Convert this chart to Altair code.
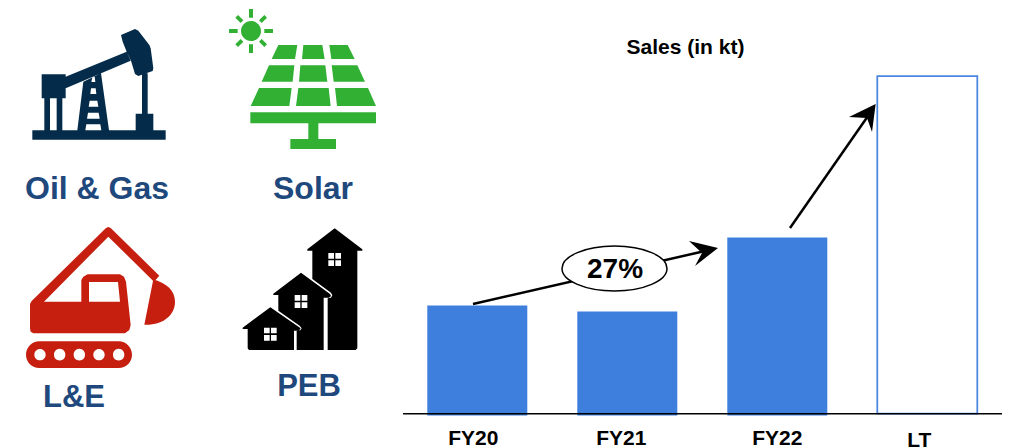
import re
import altair as alt
import pandas as pd

categories = ["FY20", "FY21", "FY22", "LT"]
filled_sales = [110, 104, 178]
open_sales = [339.5]

TEXT_BLUE = "#1F497D"
BAR_BLUE = "#3E7EDC"
FONT = "Liberation Sans"
OX = OY = -8


def z(ox, oy, s):
    """Path written in zoomed (3x) crop coordinates -> page coordinates."""
    out, i = [], 0
    for tok in re.findall(r"[MLCZ]|-?\d+\.?\d*", s):
        if tok.isalpha():
            out.append(tok)
        else:
            v = float(tok)
            out.append(f"{(ox if i % 2 == 0 else oy) + v / 3:.2f}")
            i += 1
    return " ".join(out)


def poly(ox, oy, *pts):
    return z(ox, oy, "M" + " L".join(f"{x} {y}" for x, y in pts) + " Z")


def rect(ox, oy, x0, y0, x1, y1):
    return poly(ox, oy, (x0, y0), (x1, y0), (x1, y1), (x0, y1))


def circle(ox, oy, cx, cy, r):
    x, y, r = ox + cx / 3, oy + cy / 3, r / 3
    return f"M {x - r:.2f} {y:.2f} A {r:.2f} {r:.2f} 0 1 1 {x + r:.2f} {y:.2f} A {r:.2f} {r:.2f} 0 1 1 {x - r:.2f} {y:.2f} Z"


def stadium(ox, oy, x0, x1, y0, y1):
    r = (y1 - y0) / 6
    a, b, t, u = ox + x0 / 3, ox + x1 / 3, oy + y0 / 3, oy + y1 / 3
    return f"M {a:.2f} {t:.2f} L {b:.2f} {t:.2f} A {r:.2f} {r:.2f} 0 0 1 {b:.2f} {u:.2f} L {a:.2f} {u:.2f} A {r:.2f} {r:.2f} 0 0 1 {a:.2f} {t:.2f} Z"


def icon(paths, color):
    return (
        alt.Chart(pd.DataFrame({"i": [0]}))
        .mark_point(shape=" ".join(paths), filled=True, size=4, color=color, opacity=1, strokeWidth=0)
        .encode(x=alt.value(OX), y=alt.value(OY))
    )


# oil pump
O = (20, 20)
oil = [
    rect(*O, 37, 331, 437, 359),
    rect(*O, 65, 163, 137, 235),
    rect(*O, 73, 235, 90, 331),
    rect(*O, 110, 235, 127, 331),
    poly(*O, (137, 170), (320, 95), (332, 122), (137, 205)),
    poly(*O, (303, 45), (345, 27), (355, 32), (388, 75), (392, 85), (400, 145), (398, 153), (355, 168), (345, 162), (333, 122), (320, 95), (308, 65)),
    rect(*O, 366, 160, 383, 285),
    rect(*O, 347, 281, 400, 331),
    poly(*O, (172, 331), (190, 185), (243, 160), (267, 331)),
]
oil_white = [
    poly(*O, (217, 172), (224, 170), (226, 186), (214, 186)),
    poly(*O, (213, 205), (227, 205), (229, 222), (211, 222)),
    poly(*O, (209, 242), (232, 242), (235, 260), (206, 260)),
    poly(*O, (204, 278), (236, 278), (239, 296), (201, 296)),
    poly(*O, (199, 313), (241, 313), (244, 331), (196, 331)),
]

# solar panel
S = (220, 5)
solar = [circle(*S, 93, 78, 30)] + [
    rect(*S, 87, 12, 99, 38),
    rect(*S, 87, 118, 99, 144),
    rect(*S, 27, 72, 53, 84),
    rect(*S, 133, 72, 159, 84),
    poly(*S, (54, 30), (70, 46), (62, 54), (46, 38)),
    poly(*S, (133, 30), (141, 38), (125, 54), (117, 46)),
    poly(*S, (62, 102), (70, 110), (54, 126), (46, 118)),
    poly(*S, (125, 102), (141, 118), (133, 126), (117, 110)),
    poly(*S, (175, 120), (232, 120), (225, 162), (155, 162)),
    poly(*S, (250, 120), (307, 120), (314, 162), (246, 162)),
    poly(*S, (328, 120), (383, 120), (404, 162), (334, 162)),
    poly(*S, (147, 181), (223, 181), (218, 230), (125, 230)),
    poly(*S, (241, 181), (316, 181), (322, 230), (237, 230)),
    poly(*S, (335, 181), (412, 181), (435, 230), (341, 230)),
    poly(*S, (117, 249), (215, 249), (208, 303), (92, 303)),
    poly(*S, (235, 249), (326, 249), (332, 303), (228, 303)),
    poly(*S, (345, 249), (444, 249), (468, 303), (351, 303)),
    rect(*S, 91, 322, 468, 355),
    rect(*S, 265, 355, 295, 402),
    rect(*S, 211, 402, 348, 432),
]

# excavator
E = (20, 220)
exc = [
    poly(*E, (30, 252), (35, 243), (258, 24), (265, 21), (272, 24), (418, 167), (402, 185), (265, 50), (72, 245), (60, 262)),
    poly(*E, (30, 252), (38, 245), (184, 245), (184, 180), (190, 170), (203, 163), (300, 163), (312, 170), (318, 185), (332, 315), (328, 330), (315, 340), (40, 340), (32, 335), (30, 325)),
    z(*E, "M400 178 C440 190 465 212 465 245 C465 285 430 316 373 314 Z"),
    stadium(*E, 58, 296, 364, 444),
]
exc_white = [poly(*E, (207, 186), (294, 186), (300, 245), (207, 245))] + [
    circle(*E, x, 404, 17) for x in (60, 119, 178, 237, 296)
]

# houses
H = (235, 220)
houses = [
    poly(*H, (299, 25), (382, 88), (382, 92), (367, 92), (367, 385), (362, 390), (278, 390), (278, 235), (288, 233), (292, 226), (288, 218), (232, 177), (232, 92), (217, 92), (217, 88)),
    poly(*H, (198, 158), (285, 222), (288, 228), (282, 233), (266, 233), (266, 390), (185, 390), (185, 333), (196, 331), (200, 325), (194, 317), (130, 272), (130, 225), (115, 225), (115, 221)),
    poly(*H, (106, 262), (197, 325), (192, 332), (177, 332), (177, 390), (42, 390), (38, 385), (38, 327), (23, 327), (23, 323)),
]
house_white = []
for wx, wy in ((280, 99), (179, 225), (87, 323)):
    for dx in (0, 21):
        for dy in (0, 22):
            house_white.append(rect(*H, wx + dx, wy + dy, wx + dx + 17, wy + dy + 17))

arrow_heads = [
    poly(0, 0, (2154, 744), (2067, 723), (2106, 759), (2085, 798)),
    poly(0, 0, (2627, 312), (2547, 351), (2601, 354), (2616, 396)),
]
ellipse = "M 562 268.5 A 52.5 22.5 0 1 1 667 268.5 A 52.5 22.5 0 1 1 562 268.5 Z"

x_scale = alt.Scale(type="band", domain=categories, range=[419.3, 969.3], paddingInner=1 / 3, paddingOuter=0)
y_scale = alt.Scale(domain=[0, 407.5], range=[407.5, 0], nice=False, zero=False)
x_axis = alt.Axis(
    title=None, domain=False, ticks=False, labelAngle=0, labelFont=FONT, labelFontWeight="bold",
    labelFontSize=21, labelColor="#000000", grid=False,
    labelPadding=alt.expr("datum.value == 'LT' ? 14 : 12"),
    labelOffset=alt.expr("datum.value == 'FY20' ? -4 : datum.value == 'FY21' ? -6 : datum.value == 'LT' ? -8 : 0"),
)

bars = alt.Chart(pd.DataFrame({"cat": categories[:3], "sales": filled_sales})).mark_bar(color=BAR_BLUE).encode(
    x=alt.X("cat:N", scale=x_scale, axis=x_axis, sort=None),
    y=alt.Y("sales:Q", scale=y_scale, axis=None),
)
open_bar = alt.Chart(pd.DataFrame({"cat": categories[3:], "sales": open_sales})).mark_bar(
    fill="#FFFFFF", stroke="#4A86E0", strokeWidth=1.75
).encode(
    x=alt.X("cat:N", scale=x_scale, axis=x_axis, sort=None),
    y=alt.Y("sales:Q", scale=y_scale, axis=None),
    y2=alt.Y2(datum=1.8),
)

one = pd.DataFrame({"i": [0]})


def line(x0, y0, x1, y1, w=2.5, color="#000000"):
    return alt.Chart(one).mark_rule(color=color, strokeWidth=w).encode(
        x=alt.value(x0 + OX), x2=alt.value(x1 + OX), y=alt.value(y0 + OY), y2=alt.value(y1 + OY)
    )


def text(s, x, y, size, color="#000000", align="center"):
    return alt.Chart(pd.DataFrame({"t": [s]})).mark_text(
        font=FONT, fontWeight="bold", fontSize=size, color=color, align=align, baseline="alphabetic"
    ).encode(text="t:N", x=alt.value(x + OX), y=alt.value(y + OY))


ell = alt.Chart(one).mark_point(
    shape=ellipse, filled=True, size=4, fill="#FFFFFF", stroke="#000000", strokeWidth=1.5, opacity=1
).encode(x=alt.value(OX), y=alt.value(OY))

chart = alt.layer(
    bars,
    open_bar,
    line(403, 413.7, 1002, 413.7, 1.5),
    line(473, 304, 705, 251),
    line(790, 228, 868, 116),
    icon(arrow_heads, "#000000"),
    ell,
    text("27%", 615, 278, 28),
    icon(oil, "#042C4A"),
    icon(oil_white, "#FFFFFF"),
    icon(solar, "#32B034"),
    icon(exc, "#C61E0F"),
    icon(exc_white, "#FFFFFF"),
    icon(houses, "#000000"),
    icon(house_white, "#FFFFFF"),
    text("Oil & Gas", 97, 199, 32, TEXT_BLUE),
    text("Solar", 313, 199, 32, TEXT_BLUE),
    text("L&E", 74, 407, 31, TEXT_BLUE),
    text("PEB", 309, 396, 31, TEXT_BLUE),
    text("Sales (in kt)", 685.5, 54, 21),
).properties(
    width=994,
    height=407.5,
    padding={"left": 0, "top": 0, "right": 0, "bottom": 32},
    autosize=alt.AutoSizeParams(type="none"),
).configure_view(stroke=None)

chart.save("out.html", embed_options={"renderer": "svg", "actions": False})
